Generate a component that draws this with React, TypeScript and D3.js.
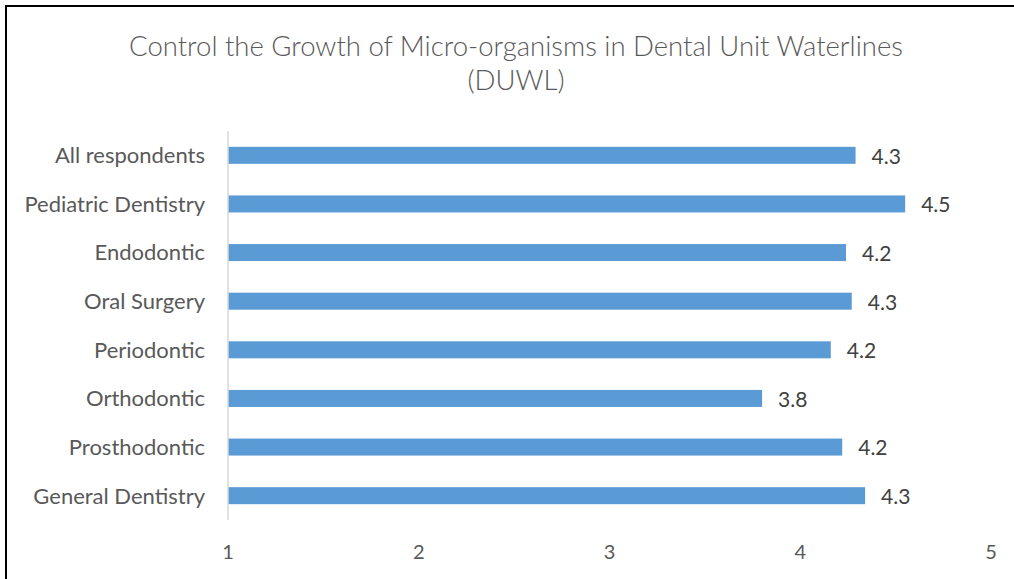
import { useRef, useEffect } from 'react';
import * as d3 from 'd3';

const categories = [
    "All respondents",
    "Pediatric Dentistry",
    "Endodontic",
    "Oral Surgery",
    "Periodontic",
    "Orthodontic",
    "Prosthodontic",
    "General Dentistry",
];
const values = [4.29, 4.55, 4.24, 4.27, 4.16, 3.8, 4.22, 4.34];
const valueLabels = ["4.3", "4.5", "4.2", "4.3", "4.2", "3.8", "4.2", "4.3"];
const xTicks = [1, 2, 3, 4, 5];
const titleLines = ["Control the Growth of Micro-organisms in Dental Unit Waterlines", "(DUWL)"];

const W = 1014;
const H = 579;
const font = "Lato, 'Open Sans', sans-serif";

const App = () => {
    const svgRef = useRef<SVGSVGElement | null>(null);

    useEffect(() => {
        if (!svgRef.current) return;
        const svg = d3.select(svgRef.current);
        svg.selectAll("*").remove();

        svg.append("rect")
            .attr("width", W).attr("height", H).attr("fill", "#fff");

        // frame (only top + left edges are visible in the source crop)
        svg.append("rect")
            .attr("x", 6).attr("y", 6)
            .attr("width", W + 20).attr("height", H + 20)
            .attr("fill", "none").attr("stroke", "#000").attr("stroke-width", 2);

        // title
        svg.append("text")
            .attr("text-anchor", "middle")
            .attr("font-family", font)
            .attr("font-size", 27.5)
            .attr("font-weight", 300)
            .attr("fill", "#595959")
            .selectAll("tspan")
            .data(titleLines)
            .join("tspan")
            .attr("x", 516)
            .attr("y", (_d, i) => 56 + i * 34)
            .text(d => d);

        const x = d3.scaleLinear().domain([1, 5]).range([228, 991]);
        const y = d3.scaleBand<string>()
            .domain(categories)
            .range([131, 520])
            .paddingInner(0.65)
            .paddingOuter(0.325);

        // x tick labels
        svg.append("g")
            .selectAll("text")
            .data(xTicks)
            .join("text")
            .attr("x", d => x(d))
            .attr("y", 559)
            .attr("text-anchor", "middle")
            .attr("font-family", font)
            .attr("font-size", 20)
            .attr("fill", "#595959")
            .text(d => d);

        // bars
        svg.append("g")
            .selectAll("rect")
            .data(values)
            .join("rect")
            .attr("x", x(1))
            .attr("y", (_d, i) => y(categories[i])!)
            .attr("width", d => x(d) - x(1))
            .attr("height", y.bandwidth())
            .attr("fill", "#5B9BD5");

        // vertical axis line
        svg.append("line")
            .attr("x1", x(1)).attr("x2", x(1))
            .attr("y1", 131).attr("y2", 520)
            .attr("stroke", "#D9D9D9").attr("stroke-width", 1.5);

        // category labels
        svg.append("g")
            .selectAll("text")
            .data(categories)
            .join("text")
            .attr("x", 205)
            .attr("y", d => y(d)! + y.bandwidth() / 2)
            .attr("dy", "0.36em")
            .attr("text-anchor", "end")
            .attr("font-family", font)
            .attr("font-size", 22)
            .attr("fill", "#595959")
            .text(d => d);

        // value labels
        svg.append("g")
            .selectAll("text")
            .data(values)
            .join("text")
            .attr("x", d => x(d) + 16)
            .attr("y", (_d, i) => y(categories[i])! + y.bandwidth() / 2)
            .attr("dy", "0.4em")
            .attr("font-family", font)
            .attr("font-size", 21)
            .attr("fill", "#404040")
            .text((_d, i) => valueLabels[i]);
    }, []);

    return (
        <svg ref={svgRef} width={W} height={H}
            style={{ position: "absolute", left: 0, top: 0 }} />
    );
};

export default App;
